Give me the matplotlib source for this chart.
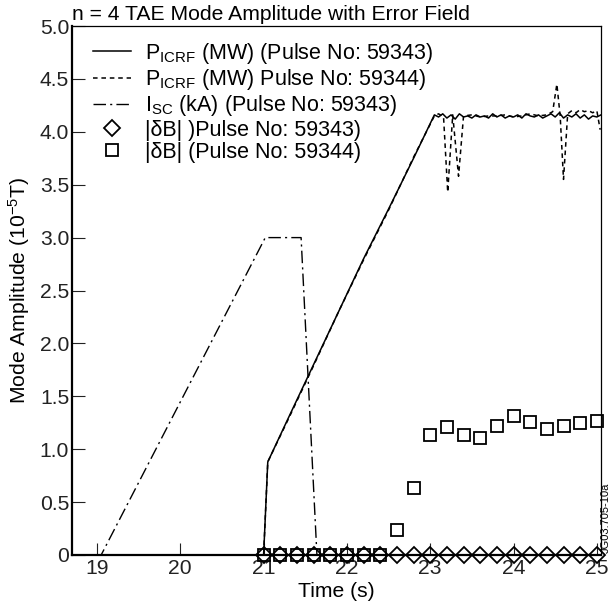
import numpy as np
import matplotlib
matplotlib.use('Agg')
import matplotlib.pyplot as plt

plt.rcParams['font.family'] = ['Liberation Sans', 'DejaVu Sans']
plt.rcParams['mathtext.fontset'] = 'custom'
plt.rcParams['mathtext.rm'] = 'Liberation Sans'
plt.rcParams['mathtext.it'] = 'Liberation Sans:italic'

# P_ICRF, pulse 59343 (MW)
p43_t = [18.7, 21.0, 21.05, 21.3, 21.6, 21.9, 22.2, 22.5, 22.8,
         23.05, 23.1, 23.15, 23.2, 23.25, 23.3, 23.35, 23.4, 23.45, 23.5,
         23.55, 23.6, 23.65, 23.7, 23.75, 23.8, 23.85, 23.9, 23.95, 24.0,
         24.05, 24.1, 24.15, 24.2, 24.25, 24.3, 24.35, 24.4, 24.45, 24.5,
         24.55, 24.6, 24.65, 24.7, 24.75, 24.8, 24.85, 24.9, 24.95, 25.0, 25.05]
p43_v = [0, 0, 0.88, 1.3, 1.8, 2.3, 2.8, 3.27, 3.75,
         4.16, 4.14, 4.17, 4.13, 4.16, 4.12, 4.17, 4.14, 4.15, 4.13,
         4.16, 4.14, 4.15, 4.13, 4.17, 4.14, 4.16, 4.13, 4.15, 4.14,
         4.16, 4.13, 4.17, 4.15, 4.14, 4.16, 4.13, 4.15, 4.17, 4.14,
         4.18, 4.13, 4.16, 4.14, 4.17, 4.13, 4.16, 4.12, 4.15, 4.14, 4.16]

# P_ICRF, pulse 59344 (MW)
p44_t = [18.7, 21.0, 21.05, 21.3, 21.6, 21.9, 22.2, 22.5, 22.8,
         23.05, 23.1, 23.16, 23.21, 23.27, 23.34, 23.4,
         23.5, 23.6, 23.7, 23.8, 23.9, 24.0, 24.1, 24.2, 24.3, 24.4,
         24.47, 24.52, 24.56, 24.6, 24.65,
         24.7, 24.75, 24.8, 24.85, 24.9, 24.95, 25.0, 25.04]
p44_v = [0, 0, 0.88, 1.29, 1.79, 2.3, 2.79, 3.26, 3.76,
         4.15, 4.17, 4.14, 3.43, 4.16, 3.58, 4.15,
         4.16, 4.14, 4.15, 4.15, 4.16, 4.14, 4.15, 4.17, 4.15, 4.16,
         4.19, 4.45, 4.15, 3.55, 4.17,
         4.2, 4.18, 4.21, 4.19, 4.2, 4.18, 4.2, 4.02]

# I_SC, pulse 59343 (kA)
isc_t = [18.7, 19.05, 21.02, 21.45, 21.64, 25.05]
isc_v = [0, 0, 3.0, 3.0, 0, 0]

# |dB| samples
db_t = [21.0, 21.2, 21.4, 21.6, 21.8, 22.0, 22.2, 22.4, 22.6, 22.8, 23.0,
        23.2, 23.4, 23.6, 23.8, 24.0, 24.2, 24.4, 24.6, 24.8, 25.0]
db43 = [0] * 21
db44 = [0, 0, 0, 0, 0, 0, 0, 0, 0.24, 0.63, 1.13,
        1.21, 1.13, 1.11, 1.22, 1.31, 1.26, 1.19, 1.22, 1.25, 1.27]

yticks = [0, 0.5, 1.0, 1.5, 2.0, 2.5, 3.0, 3.5, 4.0, 4.5, 5.0]
ytick_labels = ['0', '0.5', '1.0', '1.5', '2.0', '2.5', '3.0', '3.5', '4.0', '4.5', '5.0']
xticks = [19, 20, 21, 22, 23, 24, 25]

fs = 15.2

fig = plt.figure(figsize=(6.15, 6.07), dpi=100)
ax = fig.add_axes([72/615, 52/607, 529/615, 529/607])

ax.plot(p43_t, p43_v, '-', color='k', lw=1.1,
        label=r'P$_{\mathrm{ICRF}}$ (MW) (Pulse No: 59343)')
ax.plot(p44_t, p44_v, color='k', lw=1.1, linestyle=(0, (3, 2.5)),
        label=r'P$_{\mathrm{ICRF}}$ (MW) Pulse No: 59344)')
ax.plot(isc_t, isc_v, color='k', lw=1.0, linestyle=(0, (9, 3, 1.5, 3)),
        label=r'I$_{\mathrm{SC}}$ (kA) (Pulse No: 59343)')
ax.plot(db_t, db43, 'D', ms=8.5, mfc='none', mec='k', mew=1.3,
        label='|δB| )Pulse No: 59343)', clip_on=False)
ax.plot(db_t, db44, 's', ms=8.5, mfc='none', mec='k', mew=1.3,
        label='|δB| (Pulse No: 59344)', clip_on=False)

ax.set_xlim(18.7, 25.05)
ax.set_ylim(0, 5.0)
ax.set_xticks(xticks)
ax.set_yticks(yticks)
ax.set_yticklabels(ytick_labels)
ax.tick_params(direction='in', length=9, width=0.8, labelsize=fs,
               top=False, right=False, pad=3, colors='#222222')
ax.tick_params(axis='y', pad=2)
for s in ['left', 'bottom']:
    ax.spines[s].set_linewidth(1.6)
for s in ['top', 'right']:
    ax.spines[s].set_linewidth(0.9)

ax.set_xlabel('Time (s)', fontsize=fs, labelpad=3)
ax.set_ylabel(r'Mode Amplitude (10$^{-5}$T)', fontsize=fs, labelpad=6)
ax.text(0.0, 1.003, 'n = 4 TAE Mode Amplitude with Error Field',
        transform=ax.transAxes, fontsize=fs, ha='left', va='bottom')

ax.legend(loc='upper left', bbox_to_anchor=(0.04, 0.972), frameon=False,
          fontsize=15.5, handlelength=1.75, handletextpad=0.65,
          labelspacing=0.06, borderpad=0, borderaxespad=0)

fig.text(606/615, 1 - 553/607, 'JG03.705-10a', rotation=90, fontsize=8,
         ha='center', va='bottom')

fig.savefig('out.png', dpi=100)
